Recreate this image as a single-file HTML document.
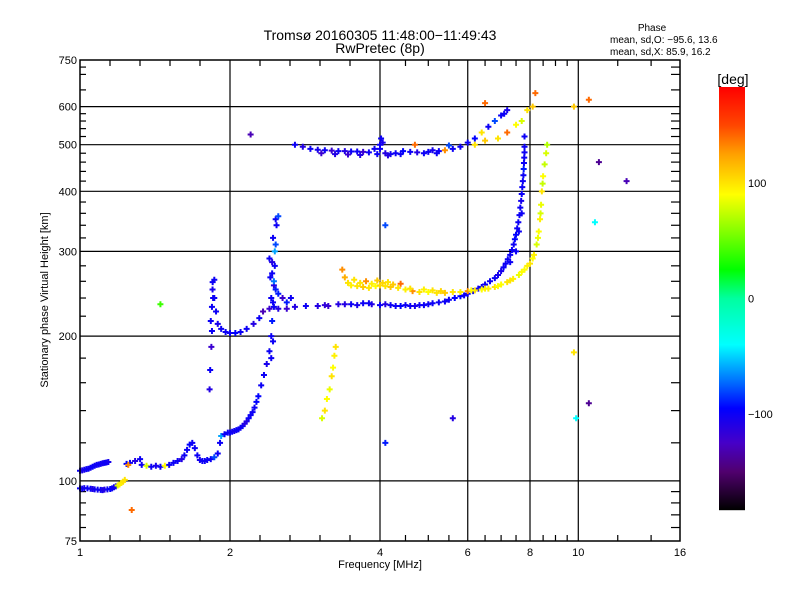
<!DOCTYPE html>
<html><head><meta charset="utf-8">
<style>
body{margin:0;background:#fff;}
svg{display:block;font-family:"Liberation Sans","DejaVu Sans",sans-serif;}
</style></head>
<body>
<svg id="chart" width="800" height="600" viewBox="0 0 800 600" xmlns="http://www.w3.org/2000/svg">
<rect width="800" height="600" fill="#fff"/>
<text x="380" y="40" text-anchor="middle" font-size="14">Tromsø 20160305 11:48:00−11:49:43</text>
<text x="380" y="53" text-anchor="middle" font-size="14">RwPretec (8p)</text>
<text x="652" y="31" text-anchor="middle" font-size="10">Phase</text>
<text x="610" y="43" font-size="10">mean, sd,O:  −95.6, 13.6</text>
<text x="610" y="55" font-size="10">mean, sd,X:   85.9, 16.2</text>
<g id="grid"></g>
<g id="ticks"></g>
<g id="marks"></g>
<rect x="80" y="60" width="600" height="481" fill="none" stroke="#000" stroke-width="1.5"/>
<text x="380" y="568" text-anchor="middle" font-size="11">Frequency [MHz]</text>
<text transform="translate(48,300) rotate(-90)" text-anchor="middle" font-size="11">Stationary phase Virtual Height [km]</text>
<g id="cbar"></g>
<text x="733" y="84" text-anchor="middle" font-size="14">[deg]</text>
</svg>
<script>
// ---------- data ----------
const xTickLabels = [1, 2, 4, 6, 8, 10, 16];
const yTickLabels = [75, 100, 200, 300, 400, 500, 600, 750];
const xGridValues = [2, 4, 6, 8, 10];
const yGridValues = [100, 200, 300, 400, 500, 600];
const colorbarLabels = [100, 0, -100];

// O-mode low E trace
const oLowFreq = [1.00,1.01,1.02,1.035,1.05,1.06,1.07,1.085,1.10,1.11,1.12,1.135,1.15,1.16,1.17,1.18,1.19,1.20,1.21,1.22,1.23];
const oLowHeight = [96.5,96.4,96.6,96.5,96.3,96.2,96.0,95.9,95.8,95.7,95.9,96.0,96.2,96.5,97.0,97.4,97.8,98.3,99.0,99.6,100.5];
const oLowPhase = [-100,-102,-105,-100,-98,-110,-102,-100,-100,-105,-110,-100,-95,-100,-100,-105,80,95,95,100,100];

// O-mode main trace E/F1 rising to ~2.48 MHz
const oMainFreq = [1.00,1.01,1.02,1.03,1.04,1.05,1.06,1.07,1.08,1.09,1.10,1.11,1.12,1.13,1.14,1.24,1.26,1.29,1.32,1.33,1.36,1.39,1.42,1.45,1.48,1.51,1.54,1.57,1.60,1.62,1.64,1.66,1.68,1.70,1.72,1.74,1.76,1.78,1.80,1.83,1.86,1.89,1.91,1.92,1.95,1.98,2.00,2.02,2.04,2.06,2.08,2.10,2.12,2.14,2.16,2.18,2.20,2.22,2.24,2.26,2.28,2.31,2.34,2.37,2.40,2.42,2.43,2.44,2.45,2.46,2.47,2.48,2.45,2.43,2.5,2.55,2.4,2.46,2.44,2.47,2.5,2.42,2.6,2.65,2.41,2.43,2.45,2.47,2.44,2.42];
const oMainHeight = [105,105.2,105.5,105.8,106,106.5,107,107.5,108,108.2,108.5,108.8,109,109.2,109.5,108.5,109,110,111,108,107.5,107,107.5,107,107.5,108,109,110,111,113,116,119,120,117,113,110.5,110,110,110.5,111,112,114,120,124,125,126,126,126.5,127,127.5,128,129,130,131.5,133,135,137,139,142,146,150,158,166,175,186,200,215,235,255,280,310,340,260,270,245,240,290,300,320,350,355,240,235,240,265,285,230,250,195,180];
const oMainPhase = [-100,-105,-105,-100,-100,-102,-98,-100,-102,-100,-100,-105,-100,-100,-105,-95,-100,-110,-100,-100,80,-100,-105,-100,90,-100,-100,-100,-110,-100,-100,-95,-100,-100,-100,-105,-100,-100,-100,-100,-80,-100,-100,-60,-100,-100,-100,-100,-105,-100,-100,-100,-100,-110,-110,-100,-100,-100,-100,-95,-95,-100,-100,-105,-100,-100,-90,-100,-110,-100,-80,-100,-70,-100,-90,-120,-100,-60,-100,-100,-80,-100,-90,-100,-100,-110,-100,-90,-100,-100];

// O-mode F cusp and F2 trace
const oF2Freq = [1.82,1.825,1.835,1.84,1.84,1.845,1.846,1.86,1.875,1.89,1.92,1.96,2.0,2.05,2.1,2.16,2.23,2.29,2.33,2.4,2.5,2.6,2.7,2.84,3.0,3.15,3.3,3.5,3.7,3.85,4.0,4.2,4.4,4.6,4.8,5.0,5.25,5.5,5.8,6.0,6.3,6.5,6.8,7.0,7.15,7.3,7.42,7.5,7.58,7.65,7.7,7.74,7.77,7.79,7.8,7.8,1.86,3.1,3.4,3.6,3.8,4.1,4.3,4.5,4.7,4.9,5.1,5.4,5.65,5.9,6.15,6.4,6.65,6.9,7.08,7.22,7.36,7.46,7.54,7.62,7.68,7.72,7.76,7.78,7.8,7.3,7.5,7.6,7.7,1.83,1.85];
const oF2Height = [155,170,190,205,230,250,259,240,225,212,207,204,203,203,204,207,212,218,225,228,228,228,230,231,231,231,233,233,234,233,232,232,231,231,232,233,235,238,242,245,251,256,264,273,283,295,310,325,345,370,395,420,445,470,495,520,262,232,233,232,234,233,231,232,231,232,234,236,240,243,248,253,260,268,278,289,302,318,335,357,382,408,432,458,482,285,300,330,360,215,240];
const oF2Phase = [-110,-100,-120,-100,-100,-105,-100,-100,-100,-105,-100,-100,-100,-95,-100,-100,-110,-100,-130,-120,-110,-120,-110,-100,-110,-120,-110,-100,-100,-110,-100,-100,-95,-100,-100,-100,-100,-100,-95,-100,-100,-100,-100,-105,-100,-100,-100,-95,-100,-100,-100,-100,-90,-100,-100,-100,-100,-115,-110,-105,-100,-110,-100,-100,-105,-100,-100,-100,-95,-100,-100,-100,-100,-105,-100,-100,-100,-95,-100,-100,-105,-100,-100,-100,-100,-100,-100,-100,-100,-100,-100];

// X-mode trace (yellow)
const xModeFreq = [3.36,3.4,3.45,3.5,3.6,3.7,3.8,3.92,4.0,4.1,4.2,4.35,4.5,4.65,4.8,5.0,5.2,5.4,5.6,5.8,6.0,6.2,6.4,6.6,6.8,7.0,7.2,7.4,7.6,7.8,8.0,8.15,8.25,8.33,8.38,8.42,8.45,8.5,8.56,8.62,8.66,3.55,3.75,3.95,4.15,4.4,3.65,3.85,4.05,4.25,4.6,4.9,5.1,5.3,6.1,6.5,6.9,7.3,7.7,7.9,8.1,8.3,8.4,8.48];
const xModeHeight = [275,265,258,255,254,253,252,254,255,254,253,252,250,248,247,247,246,246,247,247,248,249,250,251,253,256,259,263,268,275,283,295,310,330,350,375,400,430,455,480,500,262,260,261,259,257,258,257,258,256,251,250,249,248,249,251,254,261,272,280,290,320,360,415];
const xModePhase = [130,120,100,95,100,110,100,90,105,100,110,100,95,130,100,90,100,110,100,95,130,100,90,95,100,90,100,95,85,90,100,95,80,90,95,85,100,90,75,80,70,100,130,110,100,140,100,95,105,110,100,95,100,105,90,95,90,100,90,95,90,85,80,75];

// F2 upper trace (~480-600 km)
const f2UpFreq = [2.7,2.8,2.9,3.0,3.1,3.2,3.3,3.4,3.5,3.6,3.7,3.8,3.9,4.0,4.05,4.1,4.2,4.3,4.45,4.6,4.75,4.9,5.0,5.1,5.25,5.4,5.6,5.8,6.0,6.2,6.4,6.6,6.8,7.0,7.1,7.2,6.2,6.5,6.9,7.2,7.5,7.7,7.9,8.1,3.05,3.25,3.45,3.65,3.95,4.0,4.02,4.15,4.4,4.7,5.2,5.5];
const f2UpHeight = [500,495,490,488,487,486,485,485,484,484,483,482,490,500,505,480,478,480,485,483,482,480,483,487,485,487,490,495,505,515,530,545,560,575,580,590,500,510,515,530,550,560,590,600,480,478,477,476,478,490,515,475,478,500,480,498];
const f2UpPhase = [-100,-110,-100,-105,-100,-120,-100,-110,-100,-100,-120,-100,-100,-100,-105,-110,-100,-100,-95,-100,-110,-100,-100,-105,-100,130,-100,-100,-100,-95,100,-100,-80,-100,-100,-105,100,110,100,140,90,80,100,110,-120,-110,-120,-110,-100,-100,-100,-110,-100,140,-100,-80];

// Short X trace near 3.2 MHz
const xShortFreq = [3.26,3.24,3.22,3.2,3.17,3.13,3.1,3.06];
const xShortHeight = [190,182,172,165,155,148,140,135];
const xShortPhase = [100,95,90,100,85,90,100,80];

// Isolated points
const scatFreq = [1.27,1.45,2.2,4.1,5.6,9.9,10.5,9.8,11.0,12.5,10.8,10.5,9.8,8.2,6.5,4.1,1.25];
const scatHeight = [87,233,525,120,135,135,145,185,460,420,345,620,600,640,610,340,108];
const scatPhase = [140,40,-130,-90,-110,-40,-140,100,-140,-130,-40,140,110,140,140,-80,130];

// ---------- scales ----------
const X0 = 80, X1 = 680, Y0 = 60, Y1 = 541;
function xScale(f){ return X0 + (X1 - X0) * Math.log2(f) / 4; }
function yScale(h){ return Y1 - (Y1 - Y0) * Math.log10(h / 75); }
const CB_TOP = 87, CB_BOT = 510, CB_MIN = -183, CB_MAX = 183;
function cbScale(v){ return CB_BOT - (v - CB_MIN) / (CB_MAX - CB_MIN) * (CB_BOT - CB_TOP); }

const stops = [[-183,[0,0,0]],[-150,[80,0,110]],[-125,[70,0,200]],[-95,[0,0,255]],[-70,[0,120,255]],[-40,[0,255,255]],[0,[0,255,160]],[25,[0,255,0]],[60,[140,255,0]],[90,[255,255,0]],[125,[255,160,0]],[150,[255,70,0]],[183,[255,0,0]]];
function color(v){
  for(let i=0;i<stops.length-1;i++){
    const a=stops[i], b=stops[i+1];
    if(v<=b[0]){ const t=Math.max(0,(v-a[0])/(b[0]-a[0]));
      const c=a[1].map((x,k)=>Math.round(x+(b[1][k]-x)*t)); return `rgb(${c[0]},${c[1]},${c[2]})`; }
  }
  return 'rgb(255,0,0)';
}

const NS = 'http://www.w3.org/2000/svg';
function mk(tag, attrs, parent){ const e=document.createElementNS(NS,tag); for(const k in attrs) e.setAttribute(k,attrs[k]); parent.appendChild(e); return e; }

const grid = document.getElementById('grid');
xGridValues.forEach(v=>{
  const l = mk('line',{x1:xScale(v),x2:xScale(v),y1:Y0,y2:Y1,stroke:'#000','stroke-width':1.2},grid);
  
  
});
yGridValues.forEach(v=>{
  const l = mk('line',{x1:X0,x2:X1,y1:yScale(v),y2:yScale(v),stroke:'#000','stroke-width':1.2},grid);
  
  
});

const ticks = document.getElementById('ticks');
let xMinorPx = [];
[[1,2],[2,4]].forEach(([a,b])=>{ for(let i=1;i<5;i++) xMinorPx.push(xScale(a)+(xScale(b)-xScale(a))*i/5); });
[4.5,5,5.5,6.5,7,7.5,8.5,9,9.5,12,14].forEach(v=>xMinorPx.push(xScale(v)));
xMinorPx.forEach(px=>{
  const t1 = mk('line',{x1:px,x2:px,y1:Y1,y2:Y1-6,stroke:'#000','stroke-width':1.2},ticks);
  
  
  const t2 = mk('line',{x1:px,x2:px,y1:Y0,y2:Y0+6,stroke:'#000','stroke-width':1.2},ticks);
  
  
});
const yMinorVals = [80,85,90,95,120,140,160,180,220,240,260,280,320,340,360,380,420,440,460,480,520,540,560,580,650,700,725];
yMinorVals.forEach(v=>{
  const py=yScale(v);
  const t1 = mk('line',{x1:X0,x2:X0+6,y1:py,y2:py,stroke:'#000','stroke-width':1.2},ticks);
  
  
  const t2 = mk('line',{x1:X1,x2:X1-9,y1:py,y2:py,stroke:'#000','stroke-width':1.2},ticks);
  
  
});
xTickLabels.forEach(v=>{
  const t = mk('text',{x:xScale(v),y:Y1+15,'text-anchor':'middle','font-size':11},ticks);
  t.textContent = v;
  
  
});
yTickLabels.forEach(v=>{
  const t = mk('text',{x:X0-3,y:yScale(v)+4,'text-anchor':'end','font-size':11},ticks);
  t.textContent = v;
  
  
});

const marks = document.getElementById('marks');
function plotSeries(fs, hs, ps, name){
  for(let i=0;i<fs.length;i++){
    const x=xScale(fs[i]), y=yScale(hs[i]);
    const p = mk('path',{d:`M${x-3} ${y}h6M${x} ${y-3}v6`,stroke:color(ps[i]),'stroke-width':2,fill:'none'},marks);
    
    
  }
}
plotSeries(oLowFreq,oLowHeight,oLowPhase,'o-low-echo');
plotSeries(oMainFreq,oMainHeight,oMainPhase,'o-main-echo');
plotSeries(oF2Freq,oF2Height,oF2Phase,'o-f2-echo');
plotSeries(xModeFreq,xModeHeight,xModePhase,'x-mode-echo');
plotSeries(f2UpFreq,f2UpHeight,f2UpPhase,'f2-upper-echo');
plotSeries(xShortFreq,xShortHeight,xShortPhase,'x-short-echo');
plotSeries(scatFreq,scatHeight,scatPhase,'scatter-echo');

const cbar = document.getElementById('cbar');
for(let y=CB_TOP;y<CB_BOT;y++){
  const v = CB_MIN + (CB_BOT - y - 0.5)/(CB_BOT-CB_TOP)*(CB_MAX-CB_MIN);
  const r = mk('rect',{x:719,y:y,width:26,height:1.2,fill:color(v)},cbar);
  
  
}
colorbarLabels.forEach(v=>{
  const t = mk('text',{x:748,y:cbScale(v)+4,'font-size':11},cbar);
  t.textContent = v === -100 ? '−100' : v;
  
  
});
</script>
</body></html>
